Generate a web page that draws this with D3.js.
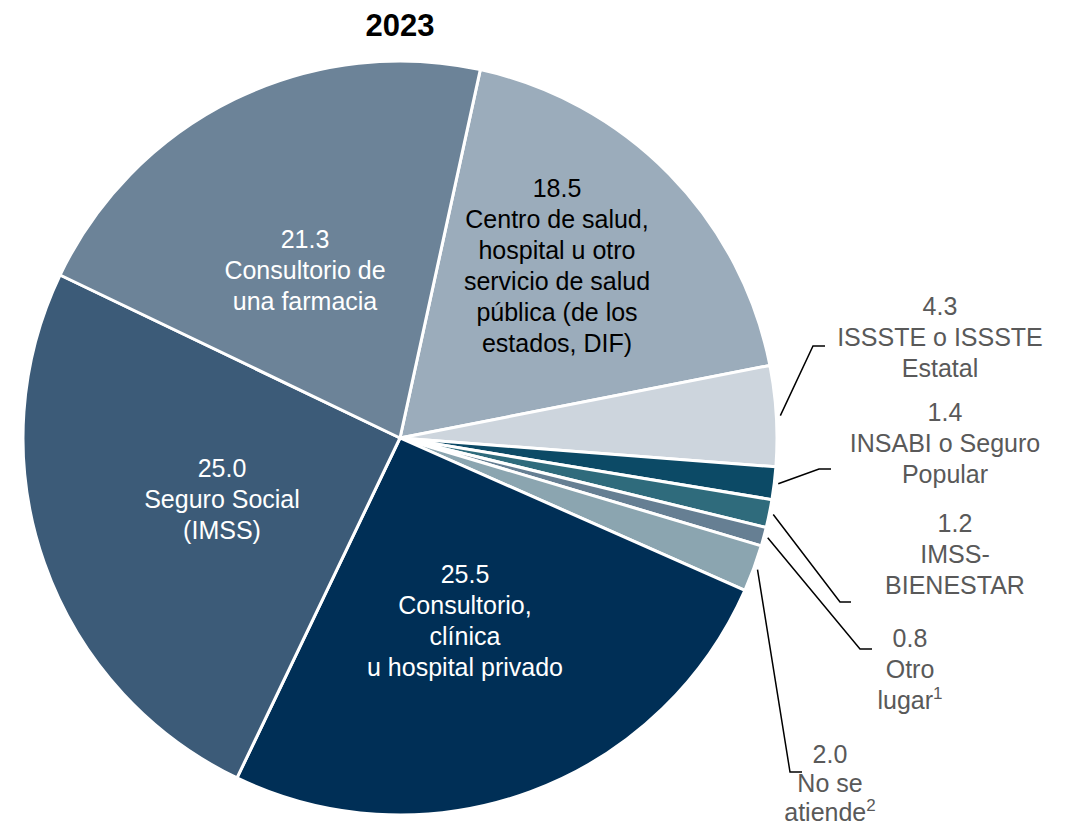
<!DOCTYPE html>
<html>
<head>
<meta charset="utf-8">
<script src="https://cdn.jsdelivr.net/npm/d3@7"></script>
<style>
  body { margin: 0; background: #fff; }
  svg { display: block; font-family: "Liberation Sans", Arial, sans-serif; }
</style>
</head>
<body>
<svg id="chart"></svg>
<script>
const width = 1074;
const height = 831;

// data (clockwise, starting at the Centro de salud slice)
const title = '2023';
const categories = [
    'Centro de salud, hospital u otro servicio de salud pública (de los estados, DIF)',
    'ISSSTE o ISSSTE Estatal',
    'INSABI o Seguro Popular',
    'IMSS-BIENESTAR',
    'Otro lugar',
    'No se atiende',
    'Consultorio, clínica u hospital privado',
    'Seguro Social (IMSS)',
    'Consultorio de una farmacia'
];
const values = [18.5, 4.3, 1.4, 1.2, 0.8, 2.0, 25.5, 25.0, 21.3];
const labelLines = [
    ['Centro de salud,', 'hospital u otro', 'servicio de salud', 'pública (de los', 'estados, DIF)'],
    ['ISSSTE o ISSSTE', 'Estatal'],
    ['INSABI o Seguro', 'Popular'],
    ['IMSS-', 'BIENESTAR'],
    ['Otro', 'lugar'],
    ['No se', 'atiende'],
    ['Consultorio,', 'clínica', 'u hospital privado'],
    ['Seguro Social', '(IMSS)'],
    ['Consultorio de', 'una farmacia']
];
const notes = ['', '', '', '', '1', '2', '', '', ''];

// styling / layout
const colors = ['#9BACBB', '#CDD5DD', '#0C4A66', '#2F6B7C', '#667F93', '#8BA5B0', '#002F56', '#3C5B78', '#6C8398'];
const cx = 400, cy = 438, radius = 377;
const startDeg = 12.3;
const fontSize = 25;
const lineGap = 31;

// label anchor (centre x, middle of first line) + leader elbow/end
const labelPos = [
    { x: 557, y: 188, fill: '#000' },
    { x: 940, y: 306, fill: '#595959', leader: [[813, 346], [825, 346]] },
    { x: 945, y: 412, fill: '#595959', leader: [[819, 469], [831, 469]] },
    { x: 955, y: 523, fill: '#595959', leader: [[840, 602], [851, 602]] },
    { x: 910, y: 638, fill: '#595959', leader: [[860, 649], [872, 649]] },
    { x: 830, y: 754, fill: '#595959', gap: 29, leader: [[790, 772], [802, 772]] },
    { x: 465, y: 574, fill: '#fff' },
    { x: 222, y: 468, fill: '#fff' },
    { x: 305, y: 239, fill: '#fff' }
];

const svg = d3.select('#chart')
    .attr('width', width)
    .attr('height', height);

svg.append('text')
    .attr('x', cx)
    .attr('y', 36)
    .attr('text-anchor', 'middle')
    .attr('font-weight', 'bold')
    .attr('font-size', 31)
    .attr('fill', '#000')
    .text(title);

const start = startDeg * Math.PI / 180;
const pie = d3.pie().sort(null).value(d => d).startAngle(start).endAngle(start + 2 * Math.PI);
const arcs = pie(values);
const arc = d3.arc().innerRadius(0).outerRadius(radius);

const g = svg.append('g').attr('transform', `translate(${cx},${cy})`);

g.selectAll('path.slice')
    .data(arcs)
    .enter().append('path')
    .attr('class', 'slice')
    .attr('d', arc)
    .attr('fill', (d, i) => colors[i])
    .attr('stroke', '#fff')
    .attr('stroke-width', 3)
    .attr('stroke-linejoin', 'round');

// leader lines
arcs.forEach((d, i) => {
    const lp = labelPos[i];
    if (!lp.leader) return;
    const mid = (d.startAngle + d.endAngle) / 2;
    const p0 = [cx + (radius + 4) * Math.sin(mid), cy - (radius + 4) * Math.cos(mid)];
    svg.append('polyline')
        .attr('points', [p0].concat(lp.leader).map(p => p.join(',')).join(' '))
        .attr('fill', 'none')
        .attr('stroke', '#000')
        .attr('stroke-width', 1.5);
});

// labels
arcs.forEach((d, i) => {
    const lp = labelPos[i];
    const gap = lp.gap || lineGap;
    const lines = [values[i].toFixed(1)].concat(labelLines[i]);
    lines.forEach((line, j) => {
        const t = svg.append('text')
            .attr('x', lp.x)
            .attr('y', lp.y + j * gap + fontSize * 0.36)
            .attr('text-anchor', 'middle')
            .attr('font-size', fontSize)
            .attr('fill', lp.fill)
            .text(line);
        if (j === lines.length - 1 && notes[i]) {
            t.append('tspan')
                .attr('font-size', 17)
                .attr('dy', -10)
                .text(notes[i]);
        }
    });
});
</script>
</body>
</html>
